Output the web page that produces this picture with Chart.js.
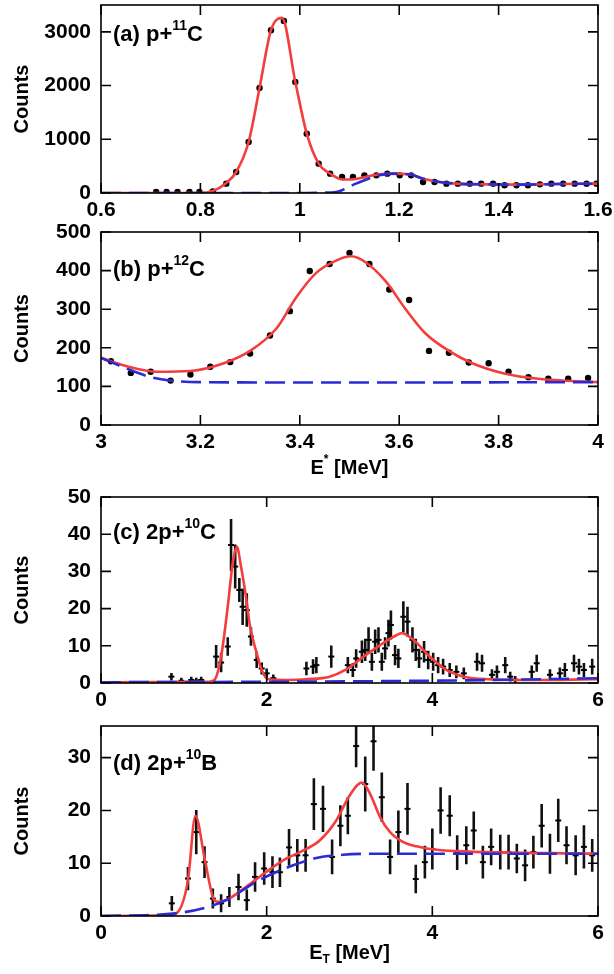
<!DOCTYPE html>
<html><head><meta charset="utf-8">
<script src="https://cdn.jsdelivr.net/npm/chart.js@4.4.1/dist/chart.umd.min.js"></script>
<style>
html,body{margin:0;padding:0;background:#fff;width:614px;height:974px;overflow:hidden}
canvas{position:absolute;left:0;display:block}
</style></head><body>
<canvas id="pa" width="614" height="230" style="top:0px"></canvas>
<canvas id="pb" width="614" height="268" style="top:212px"></canvas>
<canvas id="pc" width="614" height="240" style="top:480px"></canvas>
<canvas id="pd" width="614" height="254" style="top:720px"></canvas>
<script>
// ---------- Panel (a) p+11C ----------
const aX = [0.711,0.732,0.754,0.778,0.798,0.825,0.852,0.872,0.897,0.919,0.942,0.968,0.991,1.014,1.038,1.061,1.085,1.107,1.130,1.154,1.176,1.201,1.224,1.248,1.271,1.295,1.318,1.342,1.365,1.389,1.412,1.436,1.459,1.483,1.506,1.530,1.553,1.577,1.597];
const aY = [19,19,19,19,19,30,174,391,950,1956,3030,3204,2068,1105,546,360,298,298,329,329,360,329,329,205,205,174,174,174,174,174,143,143,143,161,174,174,174,174,174];
const aFitX = [0.6,0.798,0.825,0.852,0.872,0.897,0.919,0.942,0.964,0.991,1.014,1.038,1.061,1.087,1.113,1.147,1.181,1.221,1.248,1.281,1.315,1.382,1.449,1.516,1.6];
const aFitY = [0,0,37,186,391,950,1956,3030,3260,2068,1105,546,360,250,262,329,360,348,267,205,174,161,155,168,174];
const aBgX = [0.6,1.0,1.04,1.073,1.113,1.16,1.19,1.221,1.248,1.281,1.315,1.382,1.449,1.516,1.6];
const aBgY = [0,0,5,19,174,330,360,348,267,205,174,161,155,168,174];
const aXTicks = [0.6,0.8,1,1.2,1.4,1.6];
const aYTicks = [0,1000,2000,3000];

// ---------- Panel (b) p+12C ----------
const bX = [3.02,3.06,3.10,3.14,3.18,3.22,3.26,3.30,3.34,3.38,3.42,3.46,3.50,3.54,3.58,3.62,3.66,3.70,3.74,3.78,3.82,3.86,3.90,3.94,3.98];
const bY = [165,135,138,115,131,151,163,185,232,295,399,417,446,417,351,324,192,187,162,160,138,124,120,120,122];
const bFitX = [3.0,3.047,3.113,3.18,3.247,3.30,3.353,3.393,3.433,3.473,3.503,3.533,3.573,3.613,3.653,3.70,3.747,3.813,3.88,4.0];
const bFitY = [174,154,138,140,160,192,250,331,394,426,437,421,372,300,237,192,160,133,120,111];
const bBgX = [3.0,3.05,3.10,3.14,3.2,3.5,4.0];
const bBgY = [174,147,124,115,111,110,111];
const bXTicks = [3,3.2,3.4,3.6,3.8,4];
const bYTicks = [0,100,200,300,400,500];

// ---------- Panel (c) 2p+10C ----------
const cX = [0.85,0.97,1.09,1.15,1.21,1.39,1.45,1.53,1.57,1.62,1.67,1.71,1.76,1.81,1.88,1.94,2.00,2.08,2.48,2.56,2.60,2.78,2.98,3.04,3.08,3.15,3.19,3.23,3.27,3.31,3.35,3.39,3.43,3.47,3.50,3.55,3.59,3.65,3.70,3.76,3.80,3.84,3.90,3.95,4.01,4.07,4.13,4.21,4.29,4.38,4.54,4.60,4.72,4.78,4.88,4.94,5.00,5.20,5.26,5.42,5.54,5.60,5.71,5.77,5.83,5.93];
const cY = [1.7,0.6,0.8,0.6,0.8,7.1,5.5,9.8,37.1,31.3,25.0,20.5,19.6,12.5,6.2,3.9,2.6,1.3,3.9,4.4,4.8,7.1,4.8,3.5,6.6,8.4,8.9,11.6,5.7,11.1,11.6,5.7,9.3,13.4,15.6,7.5,6.6,17.8,16.5,11.6,8.9,6.6,8.4,6.2,5.7,4.8,4.4,3.5,3.0,2.6,5.7,5.3,2.2,3.0,4.8,1.7,0.9,3.0,5.3,2.2,2.6,3.5,5.3,4.4,3.5,4.4];
const cErr = [1.0,0.8,0.9,0.8,0.9,3.1,2.6,2.5,7.0,5.9,3.2,4.9,4.5,2.5,2.2,1.6,1.3,1.0,1.8,2.0,2.2,3.0,2.2,1.9,2.5,3.0,3.0,3.4,2.4,3.3,3.4,2.4,3.0,3.6,3.9,2.7,2.6,4.2,4.0,3.4,3.0,2.6,2.9,2.5,2.4,2.2,2.1,1.9,1.7,1.6,2.4,2.3,1.5,1.7,2.2,1.3,1.0,1.7,2.3,1.5,1.6,1.9,2.3,2.1,1.9,2.1];
const cFitX = [0,1.30,1.37,1.45,1.53,1.59,1.64,1.69,1.75,1.80,1.88,1.94,2.02,2.28,2.48,2.76,2.95,3.17,3.37,3.57,3.63,3.77,3.97,4.17,4.38,4.70,5.1,6.0];
const cFitY = [0.2,0.3,0.8,7.1,20.5,32.2,36.6,31.3,23.2,15.1,8.0,3.5,1.0,0.8,1.0,1.7,3.5,7.1,10.2,12.9,13.4,11.6,7.1,3.5,1.7,1.0,0.8,1.0];
const cBgX = [0,2.7,4.7,6.0];
const cBgY = [0.2,0.4,0.8,1.3];
const cXTicks = [0,2,4,6];
const cYTicks = [0,10,20,30,40,50];

// ---------- Panel (d) 2p+10B ----------
const dX = [0.855,1.05,1.15,1.25,1.35,1.45,1.55,1.66,1.76,1.86,1.97,2.07,2.16,2.27,2.37,2.47,2.57,2.68,2.79,2.89,2.98,3.08,3.19,3.29,3.39,3.49,3.59,3.70,3.80,3.91,4.00,4.10,4.21,4.30,4.41,4.50,4.61,4.71,4.82,4.92,5.02,5.12,5.22,5.32,5.42,5.52,5.62,5.73,5.83,5.93];
const dY = [2.4,7.1,15.9,10.2,3.3,2.4,3.6,5.5,3.0,7.4,9.0,8.3,8.3,13.0,11.5,11.5,21.2,20.3,11.2,17.1,19.0,32.2,25.0,33.1,22.5,11.2,15.9,20.3,7.0,10.2,12.7,20.0,19.0,12.0,13.4,16.2,10.2,13.1,12.1,12.1,10.9,9.6,12.1,17.1,11.8,18.1,13.4,11.5,13.1,11.5];
const dErr = [1.4,2.2,4.2,3.0,1.9,1.7,1.9,2.5,2.0,2.8,3.1,3.0,2.8,3.5,3.1,3.1,4.9,4.4,3.3,3.9,3.5,4.0,5.2,5.6,4.7,3.3,4.1,4.9,2.7,3.1,3.9,4.4,3.9,3.3,3.6,3.6,3.1,3.5,3.3,3.3,2.8,3.0,3.1,4.1,3.8,4.1,3.6,3.8,4.1,3.1];
const dFitX = [0,0.83,0.93,1.05,1.14,1.25,1.35,1.41,1.51,1.75,1.99,2.24,2.48,2.64,2.84,3.00,3.15,3.25,3.37,3.49,3.65,3.81,3.97,4.29,6.0];
const dFitY = [0,0.2,0.8,6.8,19.0,11.0,3.6,2.7,3.0,5.5,8.3,10.9,12.7,14.3,18.1,22.8,25.3,23.1,18.7,15.9,14.0,13.2,12.7,12.3,11.8];
const dBgX = [0,0.9,1.31,1.51,1.91,2.32,2.6,2.92,3.3,6.0];
const dBgY = [0,0.5,1.8,3.0,6.8,9.6,11.0,11.6,11.8,11.8];
const dXTicks = [0,2,4,6];
const dYTicks = [0,10,20,30];

const RED = '#f43d3d';
const BLUE = '#2b2bd6';
const FONT = "'Liberation Sans', Arial, sans-serif";

function pts(xs, ys) { return xs.map((x, i) => ({x: x, y: ys[i]})); }

function drawRich(ctx, parts, x, y, size, align) {
  let w = 0;
  const ws = parts.map(p => {
    ctx.font = 'bold ' + (p[1] ? Math.round(size * 0.62) : size) + 'px ' + FONT;
    const m = ctx.measureText(p[0]).width; w += m; return m;
  });
  let cx = align === 'center' ? x - w / 2 : x;
  ctx.fillStyle = '#000';
  ctx.textBaseline = 'middle';
  ctx.textAlign = 'left';
  parts.forEach((p, i) => {
    ctx.font = 'bold ' + (p[1] ? Math.round(size * 0.62) : size) + 'px ' + FONT;
    const dy = p[1] === 1 ? -size * 0.42 : (p[1] === -1 ? size * 0.32 : 0);
    ctx.fillText(p[0], cx, y + dy);
    cx += ws[i];
  });
}

const extras = {
  pa: {label: [['(a) p+',0],['11',1],['C',0]], labelDy: 30},
  pb: {label: [['(b) p+',0],['12',1],['C',0]], labelDy: 38, xTitle: [['E',0],['*',1],[' [MeV]',0]], xTitleDy: 43},
  pc: {label: [['(c) 2p+',0],['10',1],['C',0]], labelDy: 36, ex: cX, ey: cY, ee: cErr},
  pd: {label: [['(d) 2p+',0],['10',1],['B',0]], labelDy: 38, ex: dX, ey: dY, ee: dErr, xTitle: [['E',0],['T',-1],[' [MeV]',0]], xTitleDy: 37}
};

const gnuPlugin = {
  id: 'gnu',
  beforeDatasetsDraw(chart) {
    const o = extras[chart.canvas.id];
    if (!o || !o.ex) return;
    const ctx = chart.ctx, a = chart.chartArea, xs = chart.scales.x, ys = chart.scales.y;
    ctx.save();
    ctx.beginPath(); ctx.rect(a.left, a.top, a.right - a.left, a.bottom - a.top); ctx.clip();
    ctx.strokeStyle = '#111'; ctx.lineWidth = 2.6;
    ctx.beginPath();
    o.ex.forEach((xv, i) => {
      const px = xs.getPixelForValue(xv);
      ctx.moveTo(px, ys.getPixelForValue(o.ey[i] - o.ee[i]));
      ctx.lineTo(px, ys.getPixelForValue(o.ey[i] + o.ee[i]));
    });
    ctx.stroke();
    ctx.restore();
  },
  afterDraw(chart) {
    const o = extras[chart.canvas.id];
    const ctx = chart.ctx, a = chart.chartArea, xs = chart.scales.x, ys = chart.scales.y;
    ctx.save();
    ctx.strokeStyle = '#000'; ctx.lineWidth = 1.6;
    ctx.strokeRect(a.left, a.top, a.right - a.left, a.bottom - a.top);
    const L = 10;
    ctx.beginPath();
    xs.ticks.forEach(t => {
      const px = xs.getPixelForValue(t.value);
      ctx.moveTo(px, a.bottom); ctx.lineTo(px, a.bottom - L);
      ctx.moveTo(px, a.top); ctx.lineTo(px, a.top + L);
    });
    ys.ticks.forEach(t => {
      const py = ys.getPixelForValue(t.value);
      ctx.moveTo(a.left, py); ctx.lineTo(a.left + L, py);
      ctx.moveTo(a.right, py); ctx.lineTo(a.right - L, py);
    });
    ctx.stroke();
    drawRich(ctx, o.label, a.left + 12, a.top + o.labelDy, 22, 'left');
    if (o.xTitle) drawRich(ctx, o.xTitle, (a.left + a.right) / 2, a.bottom + o.xTitleDy, 20, 'center');
    ctx.restore();
  }
};

function makeChart(id, c) {
  const datasets = [];
  if (c.err) {
    datasets.push({data: pts(c.px, c.py), pointStyle: 'line', pointRadius: 3, borderColor: '#000', pointBorderWidth: 2, showLine: false, order: 3});
  } else {
    datasets.push({data: pts(c.px, c.py), pointStyle: 'circle', pointRadius: 3.2, backgroundColor: '#000', borderColor: '#000', pointBorderWidth: 0, showLine: false, order: 3});
  }
  datasets.push({data: pts(c.fx, c.fy), showLine: true, borderColor: RED, borderWidth: 2.6, pointRadius: 0, cubicInterpolationMode: 'monotone', order: 2});
  datasets.push({data: pts(c.bx, c.by), showLine: true, borderColor: BLUE, borderWidth: 2.6, borderDash: [20, 8], pointRadius: 0, cubicInterpolationMode: 'monotone', order: 1});
  const tickFont = {family: FONT, size: 21, weight: 'bold'};
  return new Chart(document.getElementById(id), {
    type: 'scatter',
    data: {datasets: datasets},
    options: {
      responsive: false, animation: false, devicePixelRatio: 1,
      layout: {padding: {top: c.top, right: 16, left: 0, bottom: 0}},
      plugins: {legend: {display: false}, tooltip: {enabled: false}},
      scales: {
        x: {
          type: 'linear', min: c.xmin, max: c.xmax,
          afterBuildTicks: s => { s.ticks = c.xt.map(v => ({value: v})); },
          afterFit: s => { s.height = c.xh; s.paddingLeft = 0; s.paddingRight = 0; },
          grid: {display: false, drawTicks: false}, border: {display: false},
          ticks: {padding: 5, font: tickFont, color: '#000', maxRotation: 0, autoSkip: false, callback: v => String(v)}
        },
        y: {
          type: 'linear', min: c.ymin, max: c.ymax,
          afterBuildTicks: s => { s.ticks = c.yt.map(v => ({value: v})); },
          afterFit: s => { s.width = 101; s.paddingTop = 0; s.paddingBottom = 0; },
          grid: {display: false, drawTicks: false}, border: {display: false},
          ticks: {padding: 10, font: tickFont, color: '#000', autoSkip: false, callback: v => String(v)},
          title: {display: true, text: 'Counts', color: '#000', font: {family: FONT, size: 20, weight: 'bold'}, padding: {top: 10, bottom: 0}}
        }
      }
    },
    plugins: [gnuPlugin]
  });
}

makeChart('pa', {px: aX, py: aY, fx: aFitX, fy: aFitY, bx: aBgX, by: aBgY, xmin: 0.6, xmax: 1.6, ymin: 0, ymax: 3500, xt: aXTicks, yt: aYTicks, top: 5, xh: 37});
makeChart('pb', {px: bX, py: bY, fx: bFitX, fy: bFitY, bx: bBgX, by: bBgY, xmin: 3, xmax: 4, ymin: 0, ymax: 500, xt: bXTicks, yt: bYTicks, top: 20, xh: 55});
makeChart('pc', {px: cX, py: cY, fx: cFitX, fy: cFitY, bx: cBgX, by: cBgY, xmin: 0, xmax: 6, ymin: 0, ymax: 50, xt: cXTicks, yt: cYTicks, top: 17, xh: 37, err: true});
makeChart('pd', {px: dX, py: dY, fx: dFitX, fy: dFitY, bx: dBgX, by: dBgY, xmin: 0, xmax: 6, ymin: 0, ymax: 36, xt: dXTicks, yt: dYTicks, top: 5, xh: 58, err: true});
</script>
</body></html>
